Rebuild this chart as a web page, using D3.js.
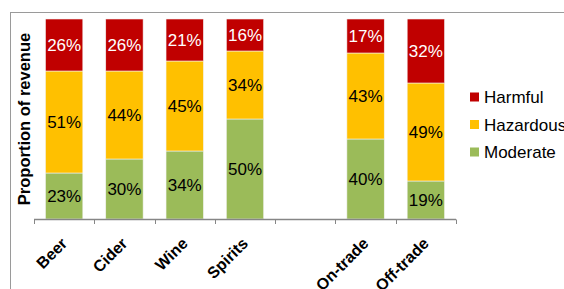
<!doctype html>
<html>
<head>
<meta charset="utf-8">
<script src="https://cdnjs.cloudflare.com/ajax/libs/d3/7.8.5/d3.min.js"></script>
<style>
body { margin:0; background:#fff; }
text { font-family: "Liberation Sans", Arial, sans-serif; }
</style>
</head>
<body>
<div id="chart"></div>
<script>
// categories (blank slot between Spirits and On-trade)
var categories = ["Beer", "Cider", "Wine", "Spirits", "", "On-trade", "Off-trade"];
var moderate  = [23, 30, 34, 50, null, 40, 19];
var hazardous = [51, 44, 45, 34, null, 43, 49];
var harmful   = [26, 26, 21, 16, null, 17, 32];
var seriesNames = ["Moderate", "Hazardous", "Harmful"];
var legendOrder = ["Harmful", "Hazardous", "Moderate"];

var colors = {Moderate: "#9BBB59", Hazardous: "#FFC000", Harmful: "#C00000"};
var labelColors = {Moderate: "#000", Hazardous: "#000", Harmful: "#fff"};

var width = 564, height = 289;
var margin = {top: 19, left: 34, right: 108, bottom: 70};
var plotW = width - margin.left - margin.right,
    plotH = height - margin.top - margin.bottom;

var svg = d3.select("#chart").append("svg")
    .attr("width", width).attr("height", height);

// outer frame
svg.append("rect")
    .attr("x", 10.5).attr("y", 12.5)
    .attr("width", 600).attr("height", 300)
    .attr("fill", "none").attr("stroke", "#9a9a9a").attr("stroke-width", 1);

var x = d3.scaleBand().domain(d3.range(categories.length))
    .range([margin.left, margin.left + plotW]).paddingInner(0.38).paddingOuter(0.19);
var y = d3.scaleLinear().domain([0, 100]).range([margin.top + plotH, margin.top]);

var rows = categories.map(function(c, i) {
  return {i: i, cat: c, Moderate: moderate[i], Hazardous: hazardous[i], Harmful: harmful[i]};
}).filter(function(d){ return d.cat !== ""; });

var stack = d3.stack().keys(seriesNames)(rows);

var g = svg.append("g");
stack.forEach(function(layer) {
  var key = layer.key;
  var lg = g.append("g");
  lg.selectAll("rect").data(layer).enter().append("rect")
    .attr("x", function(d){ return x(d.data.i); })
    .attr("width", x.bandwidth())
    .attr("y", function(d){ return y(d[1]); })
    .attr("height", function(d){ return y(d[0]) - y(d[1]); })
    .attr("fill", colors[key])
    .attr("stroke", "#f2f2f2").attr("stroke-width", 0.6);
  lg.selectAll("text").data(layer).enter().append("text")
    .attr("x", function(d){ return x(d.data.i) + x.bandwidth() / 2; })
    .attr("y", function(d){ return (y(d[0]) + y(d[1])) / 2; })
    .attr("dy", "0.36em")
    .attr("text-anchor", "middle")
    .attr("font-size", "17px")
    .attr("fill", labelColors[key])
    .text(function(d){ return d.data[key] + "%"; });
});

// x axis with ticks at band edges
var axisY = margin.top + plotH + 0.5;
var ax = svg.append("g");
ax.append("line")
  .attr("x1", margin.left).attr("x2", margin.left + plotW)
  .attr("y1", axisY).attr("y2", axisY)
  .attr("stroke", "#868686").attr("stroke-width", 1.5);
var step = x.step();
d3.range(categories.length + 1).forEach(function(k) {
  var tx = Math.round(margin.left + k * step) + 0.5;
  ax.append("line")
    .attr("x1", tx).attr("x2", tx)
    .attr("y1", axisY).attr("y2", axisY + 4.5)
    .attr("stroke", "#868686").attr("stroke-width", 1);
});

// category labels
svg.append("g").selectAll("text").data(rows).enter().append("text")
  .attr("transform", function(d){
    var cx = x(d.i) + x.bandwidth() / 2 + 4;
    return "translate(" + cx + "," + (axisY + 25) + ") rotate(-45)";
  })
  .attr("text-anchor", "end")
  .attr("font-size", "16px")
  .attr("font-weight", "bold")
  .text(function(d){ return d.cat; });

// y title
svg.append("text")
  .attr("transform", "translate(30," + (margin.top + plotH / 2) + ") rotate(-90)")
  .attr("text-anchor", "middle")
  .attr("font-size", "16.5px")
  .attr("font-weight", "bold")
  .text("Proportion of revenue");

// legend
var legend = svg.append("g").attr("transform", "translate(470,97)");
legendOrder.forEach(function(name, i) {
  var row = legend.append("g").attr("transform", "translate(0," + (i * 27.5) + ")");
  row.append("rect").attr("x", 0).attr("y", -4.5).attr("width", 9).attr("height", 9)
    .attr("fill", colors[name]);
  row.append("text").attr("x", 14).attr("y", 0).attr("dy", "0.36em")
    .attr("font-size", "17px").text(name);
});
</script>
</body>
</html>
